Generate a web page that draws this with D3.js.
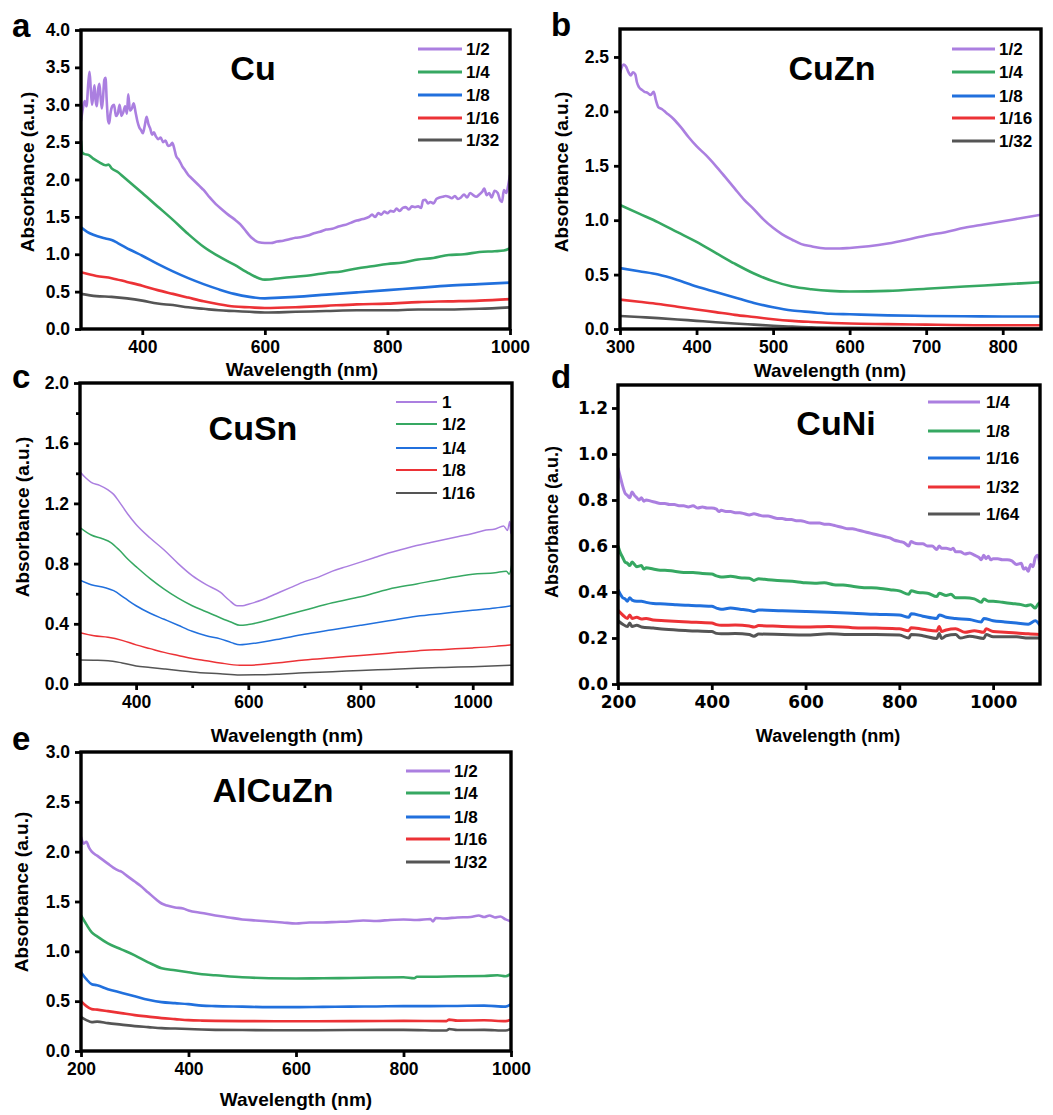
<!DOCTYPE html>
<html>
<head>
<meta charset="utf-8">
<script src="https://cdn.jsdelivr.net/npm/d3@7"></script>
<style>
  body { margin: 0; background: #fff; }
  text { font-family: "Liberation Sans", Arial, sans-serif; font-weight: bold; fill: #000; }
</style>
</head>
<body>
<svg id="fig" width="1053" height="1115"></svg>
<script>
// line colours, same order in every panel
const colors = ["#ab7fe0", "#36a862", "#2170dd", "#ec3236", "#555555"]

// ---- a: Cu ----
const cuLabels = ["1/2", "1/4", "1/8", "1/16", "1/32"]
const cuHalf = [[300,2.78],[303,2.95],[306,3.05],[309,2.98],[312,3.3],[314,3.44],[316,3.2],[318,3.0],[320,3.12],[322,3.26],[324,3.05],[326,2.98],[328,3.2],[330,3.28],[332,3.1],[334,2.95],[336,3.1],[338,3.33],[340,3.36],[342,3.05],[344,2.8],[346,2.75],[348,2.88],[351,2.98],[354,3.0],[357,2.85],[360,2.88],[363,3.0],[366,2.85],[369,2.9],[372,2.98],[375,2.88],[377,3.14],[380,2.92],[383,2.95],[386,3.02],[389,2.9],[392,2.78],[395,2.7],[398,2.66],[401,2.62],[404,2.72],[407,2.84],[410,2.74],[413,2.68],[416,2.6],[419,2.63],[422,2.58],[426,2.54],[430,2.56],[434,2.5],[438,2.52],[442,2.45],[446,2.46],[449,2.49],[452,2.42],[455,2.32],[460,2.26],[465,2.18],[470,2.12],[475,2.06],[480,2.02],[485,1.98],[490,1.94],[495,1.9],[500,1.86],[510,1.76],[520,1.67],[530,1.6],[540,1.53],[550,1.47],[560,1.4],[570,1.3],[575,1.25],[580,1.21],[585,1.18],[590,1.16],[600,1.15],[610,1.15],[620,1.17],[630,1.18],[640,1.2],[650,1.22],[660,1.23],[670,1.25],[680,1.28],[690,1.3],[700,1.33],[710,1.34],[720,1.37],[730,1.39],[740,1.42],[750,1.45],[760,1.47],[770,1.5],[775,1.53],[780,1.5],[785,1.55],[790,1.53],[795,1.57],[800,1.55],[805,1.58],[810,1.57],[815,1.61],[820,1.58],[825,1.62],[830,1.63],[835,1.6],[840,1.64],[845,1.63],[850,1.64],[855,1.62],[858,1.72],[862,1.73],[866,1.68],[870,1.7],[875,1.68],[880,1.74],[885,1.76],[890,1.77],[895,1.78],[900,1.77],[905,1.75],[910,1.78],[915,1.74],[920,1.76],[925,1.8],[930,1.76],[935,1.82],[940,1.79],[945,1.77],[950,1.8],[955,1.84],[958,1.88],[962,1.79],[966,1.82],[970,1.76],[975,1.85],[980,1.82],[984,1.72],[987,1.7],[990,1.86],[994,1.82],[997,1.92],[1000,2.06]]
const cuQuarter = [[300,2.52],[302,2.36],[306,2.34],[312,2.33],[320,2.28],[330,2.23],[340,2.19],[345,2.2],[350,2.15],[360,2.1],[370,2.03],[380,1.96],[390,1.89],[400,1.82],[425,1.64],[450,1.46],[475,1.27],[500,1.1],[525,0.97],[550,0.86],[575,0.74],[590,0.68],[600,0.66],[625,0.68],[650,0.7],[675,0.72],[700,0.75],[725,0.77],[750,0.81],[775,0.84],[800,0.87],[825,0.89],[850,0.93],[875,0.95],[900,0.99],[925,1.0],[950,1.03],[975,1.04],[990,1.05],[1000,1.08]]
const cuEighth = [[300,1.36],[310,1.3],[320,1.26],[340,1.21],[350,1.19],[360,1.15],[380,1.06],[400,0.98],[425,0.87],[450,0.77],[475,0.68],[500,0.6],[525,0.53],[550,0.47],[575,0.43],[600,0.41],[625,0.42],[650,0.43],[700,0.46],[750,0.49],[800,0.52],[850,0.55],[900,0.58],[950,0.6],[1000,0.62]]
const cu16 = [[300,0.76],[325,0.71],[350,0.68],[375,0.63],[400,0.58],[425,0.52],[450,0.47],[475,0.42],[500,0.37],[525,0.33],[550,0.3],[575,0.29],[600,0.28],[650,0.29],[700,0.31],[750,0.33],[800,0.34],[850,0.36],[900,0.37],[950,0.38],[1000,0.4]]
const cu32 = [[300,0.47],[325,0.44],[350,0.43],[375,0.41],[400,0.38],[425,0.34],[450,0.32],[475,0.29],[500,0.27],[525,0.25],[550,0.24],[575,0.23],[600,0.22],[650,0.23],[700,0.24],[750,0.25],[800,0.25],[850,0.26],[900,0.26],[950,0.27],[1000,0.29]]

// ---- b: CuZn ----
const cuZnLabels = ["1/2", "1/4", "1/8", "1/16", "1/32"]
const cuZnHalf = [[300,2.35],[302,2.4],[305,2.43],[308,2.41],[311,2.36],[314,2.33],[317,2.36],[320,2.34],[322,2.27],[325,2.22],[328,2.2],[332,2.18],[336,2.17],[340,2.15],[344,2.18],[347,2.1],[350,2.04],[355,2.02],[360,1.99],[370,1.93],[380,1.85],[390,1.76],[400,1.68],[412,1.6],[425,1.5],[437,1.4],[450,1.29],[462,1.19],[475,1.1],[487,1.01],[500,0.93],[512,0.87],[525,0.82],[537,0.78],[550,0.76],[562,0.745],[575,0.74],[587,0.74],[600,0.745],[625,0.76],[650,0.785],[675,0.82],[700,0.86],[725,0.89],[750,0.93],[775,0.96],[800,0.99],[825,1.02],[850,1.05]]
const cuZnQuarter = [[300,1.14],[325,1.06],[350,0.98],[375,0.89],[400,0.8],[425,0.7],[450,0.6],[475,0.51],[500,0.44],[525,0.39],[550,0.365],[575,0.35],[600,0.345],[650,0.35],[700,0.37],[750,0.39],[800,0.41],[850,0.43]]
const cuZnEighth = [[300,0.56],[325,0.53],[350,0.5],[375,0.45],[400,0.39],[425,0.34],[450,0.29],[475,0.24],[500,0.2],[525,0.17],[550,0.155],[575,0.14],[600,0.135],[650,0.125],[700,0.12],[750,0.117],[800,0.115],[850,0.115]]
const cuZn16 = [[300,0.27],[325,0.25],[350,0.23],[375,0.205],[400,0.18],[425,0.155],[450,0.13],[475,0.11],[500,0.09],[525,0.075],[550,0.065],[600,0.05],[650,0.045],[700,0.04],[775,0.035],[850,0.035]]
const cuZn32 = [[300,0.12],[325,0.11],[350,0.1],[375,0.088],[400,0.075],[425,0.062],[450,0.05],[475,0.04],[500,0.03],[525,0.022],[550,0.015],[600,0.01],[700,0.006],[850,0.005]]

// ---- c: CuSn ----
const cuSnLabels = ["1", "1/2", "1/4", "1/8", "1/16"]
const cuSn1 = [[300,1.41],[310,1.37],[320,1.34],[335,1.32],[350,1.29],[360,1.26],[370,1.21],[385,1.13],[400,1.06],[425,0.97],[450,0.89],[475,0.8],[500,0.72],[525,0.66],[550,0.61],[565,0.56],[580,0.52],[590,0.52],[600,0.53],[625,0.56],[650,0.6],[675,0.64],[700,0.68],[725,0.71],[750,0.75],[775,0.78],[800,0.81],[825,0.84],[850,0.87],[875,0.895],[900,0.92],[925,0.94],[950,0.96],[975,0.98],[1000,1.0],[1020,1.02],[1040,1.03],[1055,1.05],[1062,1.02],[1066,1.08],[1068,1.0],[1070,1.24]]
const cuSnHalf = [[300,1.04],[320,0.99],[340,0.965],[355,0.94],[370,0.89],[385,0.83],[400,0.78],[425,0.7],[450,0.63],[475,0.57],[500,0.52],[525,0.48],[550,0.44],[570,0.41],[585,0.39],[600,0.395],[650,0.44],[700,0.49],[750,0.54],[800,0.58],[850,0.63],[900,0.665],[950,0.7],[1000,0.73],[1040,0.74],[1060,0.75],[1065,0.73],[1070,0.8]]
const cuSnQuarter = [[300,0.69],[320,0.66],[345,0.64],[360,0.62],[380,0.57],[400,0.52],[425,0.47],[450,0.43],[475,0.39],[500,0.35],[525,0.32],[550,0.3],[570,0.275],[585,0.26],[600,0.265],[650,0.295],[700,0.33],[750,0.36],[800,0.39],[850,0.42],[900,0.45],[950,0.47],[1000,0.49],[1040,0.505],[1070,0.52]]
const cuSnEighth = [[300,0.34],[325,0.32],[350,0.31],[375,0.29],[400,0.26],[425,0.235],[450,0.21],[475,0.19],[500,0.17],[525,0.155],[550,0.14],[585,0.125],[600,0.125],[650,0.14],[700,0.16],[750,0.175],[800,0.19],[850,0.205],[900,0.22],[950,0.23],[1000,0.24],[1040,0.25],[1070,0.26]]
const cuSn16 = [[300,0.16],[325,0.158],[350,0.155],[375,0.14],[400,0.12],[425,0.11],[450,0.1],[475,0.09],[500,0.08],[550,0.068],[585,0.06],[650,0.065],[700,0.075],[750,0.082],[800,0.09],[850,0.097],[900,0.105],[950,0.11],[1000,0.115],[1070,0.125]]

// ---- d: CuNi ----
const cuNiLabels = ["1/4", "1/8", "1/16", "1/32", "1/64"]
const cuNiQuarter = [[200,0.94],[205,0.9],[210,0.86],[215,0.83],[220,0.82],[225,0.81],[230,0.835],[235,0.82],[240,0.81],[245,0.8],[250,0.81],[255,0.795],[260,0.8],[270,0.795],[280,0.79],[290,0.785],[300,0.785],[310,0.78],[320,0.78],[330,0.775],[340,0.775],[350,0.77],[360,0.775],[370,0.765],[380,0.77],[390,0.765],[400,0.765],[410,0.76],[415,0.75],[420,0.755],[430,0.75],[440,0.75],[450,0.745],[460,0.745],[470,0.74],[480,0.735],[490,0.74],[500,0.735],[510,0.73],[520,0.73],[530,0.725],[540,0.72],[550,0.72],[560,0.715],[570,0.715],[580,0.71],[590,0.71],[600,0.705],[610,0.7],[620,0.7],[630,0.7],[640,0.695],[650,0.695],[660,0.69],[670,0.685],[680,0.68],[690,0.675],[700,0.675],[710,0.67],[720,0.665],[730,0.66],[740,0.655],[750,0.65],[760,0.645],[770,0.64],[780,0.635],[790,0.625],[800,0.62],[810,0.615],[820,0.6],[825,0.62],[830,0.615],[840,0.61],[850,0.61],[860,0.6],[870,0.6],[880,0.585],[885,0.6],[890,0.59],[900,0.59],[910,0.585],[915,0.59],[920,0.575],[930,0.575],[940,0.565],[950,0.57],[960,0.56],[970,0.55],[975,0.54],[980,0.56],[985,0.545],[990,0.555],[995,0.54],[1000,0.545],[1010,0.545],[1020,0.54],[1030,0.54],[1040,0.535],[1050,0.52],[1060,0.525],[1065,0.5],[1070,0.505],[1075,0.49],[1080,0.52],[1085,0.51],[1090,0.55],[1095,0.56],[1100,0.52]]
const cuNiEighth = [[200,0.6],[205,0.57],[210,0.55],[215,0.53],[220,0.525],[225,0.515],[230,0.53],[235,0.52],[240,0.51],[250,0.515],[255,0.5],[260,0.505],[275,0.5],[290,0.495],[300,0.495],[320,0.49],[340,0.485],[360,0.485],[380,0.48],[400,0.478],[410,0.47],[420,0.465],[440,0.468],[460,0.462],[480,0.46],[490,0.45],[500,0.458],[520,0.453],[540,0.45],[560,0.448],[580,0.445],[600,0.44],[620,0.438],[640,0.44],[660,0.432],[680,0.43],[700,0.425],[720,0.42],[740,0.418],[760,0.415],[780,0.41],[800,0.405],[820,0.39],[825,0.405],[840,0.398],[860,0.395],[880,0.38],[885,0.395],[900,0.385],[910,0.39],[920,0.375],[940,0.375],[960,0.37],[975,0.355],[980,0.37],[990,0.36],[1000,0.36],[1020,0.355],[1040,0.35],[1060,0.345],[1070,0.34],[1080,0.345],[1090,0.33],[1095,0.345],[1100,0.355]]
const cuNi16 = [[200,0.41],[205,0.39],[210,0.375],[215,0.37],[220,0.36],[225,0.375],[230,0.365],[240,0.36],[250,0.36],[260,0.355],[275,0.35],[300,0.348],[325,0.345],[350,0.342],[375,0.34],[400,0.338],[410,0.33],[420,0.325],[440,0.33],[460,0.325],[480,0.32],[490,0.315],[500,0.322],[550,0.318],[600,0.315],[650,0.312],[700,0.308],[750,0.303],[800,0.3],[820,0.29],[825,0.305],[850,0.295],[880,0.285],[885,0.3],[900,0.29],[920,0.285],[950,0.28],[975,0.27],[980,0.285],[1000,0.275],[1025,0.27],[1050,0.265],[1075,0.26],[1090,0.275],[1100,0.255]]
const cuNi32 = [[200,0.32],[210,0.3],[220,0.285],[225,0.3],[230,0.285],[240,0.29],[250,0.283],[260,0.285],[275,0.278],[300,0.275],[350,0.27],[400,0.265],[410,0.258],[420,0.255],[450,0.256],[480,0.252],[490,0.248],[500,0.254],[550,0.25],[600,0.248],[650,0.25],[700,0.245],[750,0.243],[800,0.24],[820,0.232],[825,0.245],[850,0.238],[880,0.23],[885,0.25],[890,0.228],[900,0.235],[920,0.24],[940,0.225],[960,0.232],[980,0.225],[985,0.24],[1000,0.228],[1025,0.225],[1050,0.222],[1075,0.218],[1100,0.215]]
const cuNi64 = [[200,0.275],[210,0.26],[220,0.25],[225,0.265],[230,0.25],[240,0.255],[250,0.248],[275,0.243],[300,0.238],[350,0.232],[400,0.228],[410,0.22],[420,0.218],[450,0.22],[480,0.215],[490,0.208],[500,0.217],[550,0.215],[600,0.213],[650,0.218],[700,0.215],[750,0.215],[800,0.213],[820,0.2],[825,0.215],[850,0.21],[880,0.198],[885,0.22],[890,0.198],[900,0.21],[920,0.215],[930,0.2],[950,0.208],[980,0.198],[985,0.215],[1000,0.205],[1050,0.205],[1075,0.2],[1100,0.2]]

// ---- e: AlCuZn ----
const alCuZnLabels = ["1/2", "1/4", "1/8", "1/16", "1/32"]
const alCuZnHalf = [[200,2.15],[205,2.08],[210,2.1],[215,2.04],[220,2.0],[230,1.96],[240,1.92],[250,1.88],[260,1.84],[270,1.81],[275,1.8],[285,1.76],[300,1.7],[310,1.66],[325,1.59],[340,1.52],[350,1.48],[360,1.46],[375,1.44],[390,1.43],[400,1.41],[425,1.385],[450,1.36],[475,1.34],[500,1.32],[525,1.31],[550,1.3],[575,1.29],[600,1.28],[625,1.29],[650,1.29],[675,1.295],[700,1.3],[725,1.31],[750,1.305],[775,1.315],[800,1.32],[825,1.315],[850,1.325],[855,1.3],[860,1.335],[875,1.33],[900,1.34],[925,1.345],[940,1.36],[950,1.345],[960,1.36],[970,1.34],[980,1.35],[990,1.32],[1000,1.3]]
const alCuZnQuarter = [[200,1.36],[210,1.27],[220,1.19],[230,1.15],[250,1.08],[275,1.02],[300,0.96],[325,0.89],[350,0.83],[375,0.81],[400,0.79],[425,0.77],[450,0.76],[500,0.74],[550,0.73],[600,0.728],[650,0.73],[700,0.733],[750,0.737],[800,0.74],[820,0.73],[825,0.745],[850,0.745],[900,0.75],[950,0.752],[975,0.76],[990,0.75],[1000,0.775]]
const alCuZnEighth = [[200,0.79],[210,0.72],[220,0.67],[230,0.66],[250,0.62],[275,0.585],[300,0.55],[325,0.515],[350,0.49],[375,0.48],[400,0.47],[425,0.455],[450,0.45],[500,0.445],[550,0.44],[600,0.44],[650,0.443],[700,0.445],[750,0.447],[800,0.45],[850,0.45],[900,0.452],[950,0.455],[990,0.445],[1000,0.47]]
const alCuZn16 = [[200,0.5],[210,0.45],[220,0.42],[230,0.415],[250,0.4],[275,0.38],[300,0.36],[325,0.345],[350,0.33],[375,0.32],[400,0.31],[425,0.305],[450,0.302],[500,0.3],[600,0.298],[700,0.3],[800,0.302],[880,0.3],[885,0.315],[900,0.305],[950,0.308],[990,0.3],[1000,0.315]]
const alCuZn32 = [[200,0.34],[210,0.31],[220,0.29],[230,0.295],[250,0.28],[275,0.265],[300,0.25],[325,0.24],[350,0.23],[375,0.225],[400,0.22],[425,0.215],[450,0.212],[500,0.21],[600,0.208],[700,0.21],[800,0.212],[880,0.205],[885,0.22],[900,0.21],[950,0.212],[990,0.205],[1000,0.225]]

const svg = d3.select("#fig")

function panel(p) {
  const x = d3.scaleLinear().domain(p.xDomain).range([p.left, p.right])
  const y = d3.scaleLinear().domain(p.yDomain).range([p.bottom, p.top])
  const g = svg.append("g").style("font-family", p.font)

  g.append("clipPath").attr("id", "clip-" + p.letter)
    .append("rect")
      .attr("x", p.left).attr("y", p.top)
      .attr("width", p.right - p.left).attr("height", p.bottom - p.top)

  const line = d3.line()
    .x(d => x(d[0]))
    .y(d => y(d[1]))
    .curve(d3.curveMonotoneX)

  // spectra, lowest concentration drawn first
  g.append("g")
    .attr("clip-path", `url(#clip-${p.letter})`)
    .selectAll("path")
    .data(p.series.map((s, i) => ({ s, i })).reverse())
    .join("path")
      .attr("d", d => line(d.s))
      .attr("fill", "none")
      .attr("stroke", d => colors[d.i])
      .attr("stroke-width", p.lw)
      .attr("stroke-linejoin", "round")

  // axes
  g.append("g")
    .attr("transform", `translate(0,${p.bottom})`)
    .call(d3.axisBottom(x).tickValues(p.xTicks).tickSize(6).tickSizeOuter(0).tickPadding(p.xPad).tickFormat(d3.format("d")))
  g.append("g")
    .attr("transform", `translate(${p.left},0)`)
    .call(d3.axisLeft(y).tickValues(p.yTicks).tickSize(6).tickSizeOuter(0).tickPadding(p.yPad).tickFormat(d3.format(".1f")))
  if (p.xMinor) g.append("g").attr("transform", `translate(0,${p.bottom})`)
    .call(d3.axisBottom(x).tickValues(p.xMinor).tickSize(4).tickFormat(""))
  if (p.yMinor) g.append("g").attr("transform", `translate(${p.left},0)`)
    .call(d3.axisLeft(y).tickValues(p.yMinor).tickSize(4).tickFormat(""))
  g.selectAll(".domain").remove()
  g.selectAll(".tick line").attr("stroke", "#000").attr("stroke-width", 2.8)
  g.selectAll(".tick text")
    .style("font-family", p.font).style("font-weight", "bold")
    .style("font-size", p.tickFont + "px").attr("fill", "#000")

  // box
  g.append("rect")
    .attr("x", p.left).attr("y", p.top)
    .attr("width", p.right - p.left).attr("height", p.bottom - p.top)
    .attr("fill", "none").attr("stroke", "#000").attr("stroke-width", p.frame)

  // axis titles
  g.append("text")
    .attr("x", p.xLabel[0]).attr("y", p.xLabel[1])
    .attr("text-anchor", "middle")
    .style("font-size", p.labelFont + "px")
    .text("Wavelength (nm)")
  g.append("text")
    .attr("transform", `translate(${p.yLabel[0]},${p.yLabel[1]}) rotate(-90)`)
    .attr("text-anchor", "middle").attr("dy", "0.35em")
    .style("font-size", p.labelFont + "px")
    .text("Absorbance (a.u.)")

  // panel letter and sample name
  g.append("text")
    .attr("x", p.letterPos[0]).attr("y", p.letterPos[1])
    .style("font-size", "33px").style("font-family", "'Liberation Sans', Arial, sans-serif")
    .text(p.letter)
  g.append("text")
    .attr("x", p.titlePos[0]).attr("y", p.titlePos[1])
    .attr("text-anchor", "middle")
    .style("font-size", "34px").style("font-family", "'Liberation Sans', Arial, sans-serif")
    .text(p.title)

  // legend
  const leg = g.append("g")
    .selectAll("g")
    .data(p.labels)
    .join("g")
      .attr("transform", (d, i) => `translate(0,${p.legend.ys[i]})`)
  leg.append("line")
    .attr("x1", p.legend.x1).attr("x2", p.legend.x2)
    .attr("stroke", (d, i) => colors[i])
    .attr("stroke-width", p.legend.lw)
  leg.append("text")
    .attr("x", p.legend.tx).attr("dy", "0.36em")
    .style("font-size", p.legend.font + "px")
    .text(d => d)
}

const arial = "'Liberation Sans', Arial, sans-serif"

panel({
  letter: "a", title: "Cu", font: arial,
  left: 81, right: 510, top: 30, bottom: 329,
  xDomain: [300, 1000], yDomain: [0, 4],
  xTicks: [400, 600, 800, 1000], yTicks: d3.range(0, 4.01, 0.5),
  series: [cuHalf, cuQuarter, cuEighth, cu16, cu32], labels: cuLabels,
  lw: 2.6, frame: 3.4, tickFont: 17.5, labelFont: 19, xPad: 6, yPad: 5,
  xLabel: [302, 376], yLabel: [27, 172],
  letterPos: [12, 37], titlePos: [253, 80],
  legend: { x1: 418, x2: 462, tx: 466, ys: [49, 72, 95, 118, 140], lw: 3, font: 17 }
})

panel({
  letter: "b", title: "CuZn", font: arial,
  left: 620, right: 1041, top: 29, bottom: 329,
  xDomain: [300, 850], yDomain: [0, 2.757],
  xTicks: [300, 400, 500, 600, 700, 800], yTicks: d3.range(0, 2.51, 0.5),
  series: [cuZnHalf, cuZnQuarter, cuZnEighth, cuZn16, cuZn32], labels: cuZnLabels,
  lw: 2.6, frame: 3.4, tickFont: 17.5, labelFont: 19, xPad: 6, yPad: 5,
  xLabel: [830, 377], yLabel: [561, 172],
  letterPos: [551, 36], titlePos: [832, 80],
  legend: { x1: 952, x2: 995, tx: 999, ys: [49, 72, 96, 118, 141], lw: 3, font: 17 }
})

panel({
  letter: "c", title: "CuSn", font: arial,
  left: 80, right: 512, top: 383, bottom: 684,
  xDomain: [300, 1070], yDomain: [0, 2],
  xTicks: [400, 600, 800, 1000], yTicks: [0, 0.4, 0.8, 1.2, 1.6, 2.0],
  xMinor: [500, 700, 900], yMinor: [0.2, 0.6, 1.0, 1.4, 1.8],
  series: [cuSn1, cuSnHalf, cuSnQuarter, cuSnEighth, cuSn16], labels: cuSnLabels,
  lw: 1.5, frame: 3.4, tickFont: 17.5, labelFont: 19, xPad: 6, yPad: 5,
  xLabel: [287, 742], yLabel: [22, 517],
  letterPos: [12, 388], titlePos: [253, 440],
  legend: { x1: 396, x2: 437, tx: 442, ys: [402, 424, 448, 470, 493], lw: 1.8, font: 17 }
})

panel({
  letter: "d", title: "CuNi", font: "'DejaVu Sans', Verdana, sans-serif",
  left: 618, right: 1040, top: 385, bottom: 684,
  xDomain: [200, 1100], yDomain: [0, 1.3],
  xTicks: [200, 400, 600, 800, 1000], yTicks: d3.range(0, 1.21, 0.2),
  series: [cuNiQuarter, cuNiEighth, cuNi16, cuNi32, cuNi64], labels: cuNiLabels,
  lw: 3, frame: 3.4, tickFont: 17, labelFont: 18, xPad: 6, yPad: 4,
  xLabel: [828, 742], yLabel: [552, 522],
  letterPos: [551, 388], titlePos: [836, 435],
  legend: { x1: 928, x2: 980, tx: 986, ys: [402, 431, 458, 487, 514], lw: 3.2, font: 17 }
})

panel({
  letter: "e", title: "AlCuZn", font: arial,
  left: 81, right: 511, top: 752, bottom: 1051,
  xDomain: [200, 1000], yDomain: [0, 3],
  xTicks: [200, 400, 600, 800, 1000], yTicks: d3.range(0, 3.01, 0.5),
  series: [alCuZnHalf, alCuZnQuarter, alCuZnEighth, alCuZn16, alCuZn32], labels: alCuZnLabels,
  lw: 2.6, frame: 3.4, tickFont: 17.5, labelFont: 19, xPad: 6, yPad: 5,
  xLabel: [296, 1106], yLabel: [21, 892],
  letterPos: [12, 750], titlePos: [273, 802],
  legend: { x1: 406, x2: 450, tx: 454, ys: [771, 793, 817, 839, 862], lw: 3, font: 17 }
})
</script>
</body>
</html>
